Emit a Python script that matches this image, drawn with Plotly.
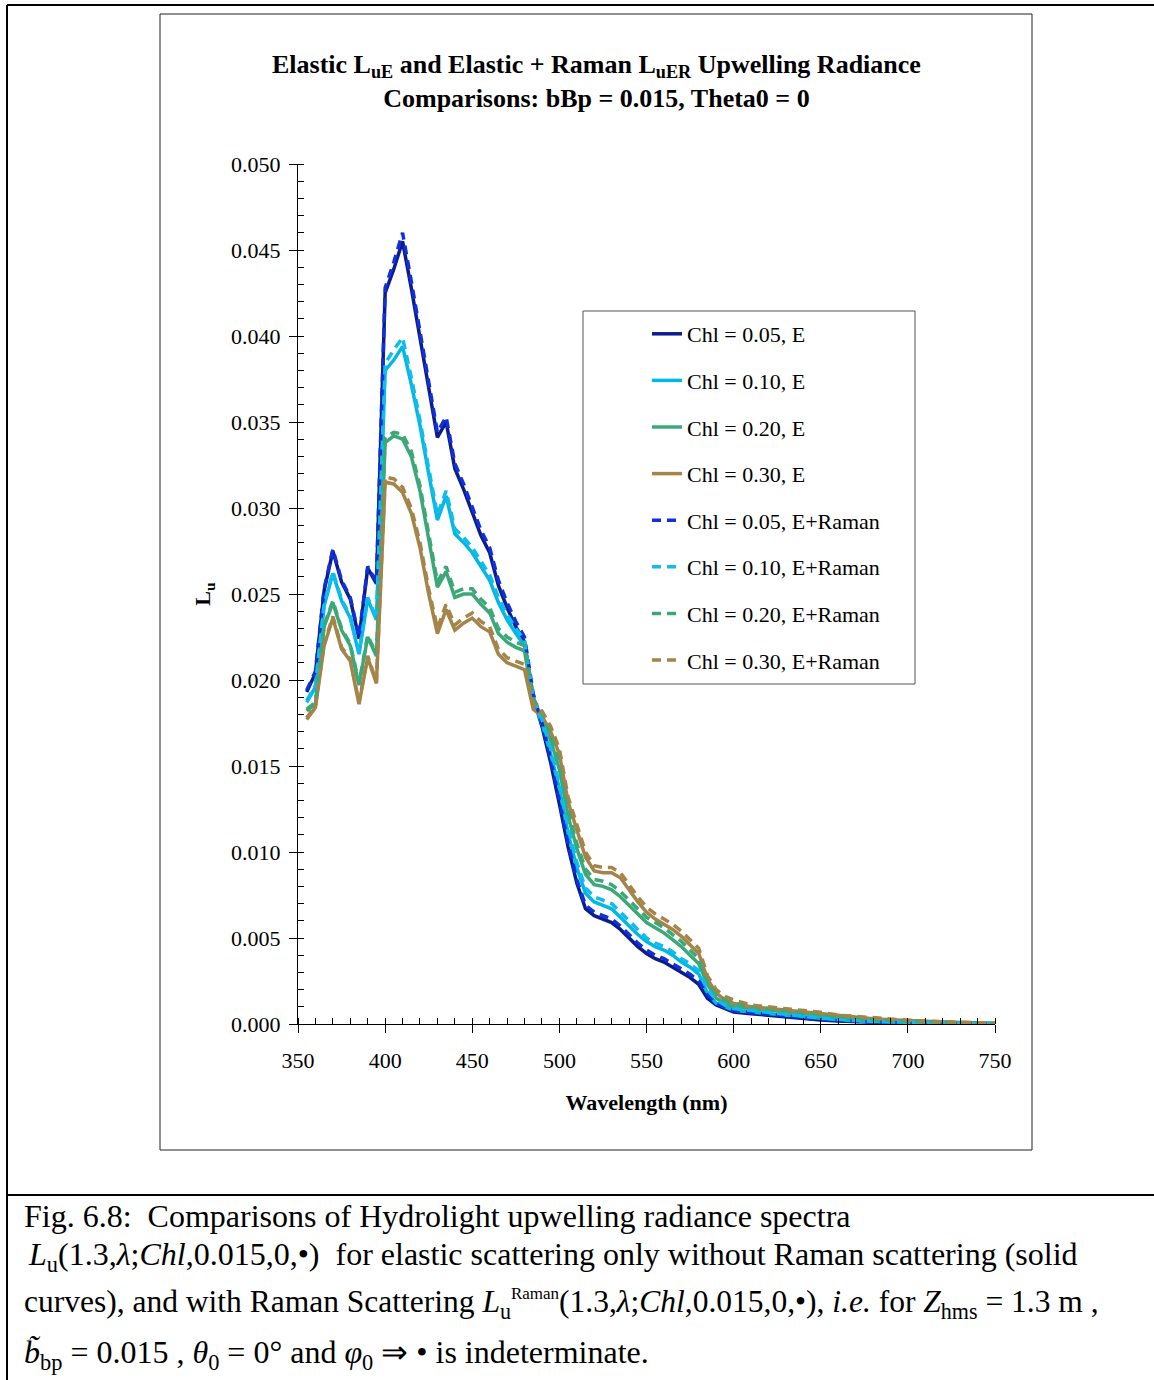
import plotly.graph_objects as go

# ---------------- data ----------------
wavelength = [355, 360, 365, 370, 375, 380, 385, 390, 395, 400, 405, 410, 415, 420, 425, 430, 435, 440, 445, 450,
              455, 460, 465, 470, 475, 480, 485, 490, 495, 500, 505, 510, 515, 520, 525, 530, 535, 540, 545, 550,
              555, 560, 565, 570, 575, 580, 585, 590, 595, 600, 610, 620, 630, 640, 650, 660, 670, 680, 690, 700,
              725, 750]

chl005_E = [0.0193, 0.0204, 0.0252, 0.0275, 0.0257, 0.0247, 0.0224, 0.0265, 0.0256, 0.0425, 0.0439, 0.0455, 0.0428,
            0.0398, 0.0370, 0.0341, 0.0350, 0.0323, 0.0311, 0.0297, 0.0284, 0.0274, 0.0255, 0.0242, 0.0231, 0.0222,
            0.0190, 0.0173, 0.0152, 0.0128, 0.0103, 0.0082, 0.0067, 0.0063, 0.0061, 0.0059, 0.0055, 0.0050, 0.0045,
            0.0041, 0.0038, 0.0036, 0.0033, 0.0030, 0.0027, 0.0023, 0.0015, 0.0011, 0.0009, 0.0007, 0.0006, 0.0005,
            0.0004, 0.0003, 0.00023, 0.00018, 0.00013, 0.0001, 0.00007, 0.00005, 0.00002, 0.00001]

chl010_E = [0.0187, 0.0196, 0.0243, 0.0262, 0.0246, 0.0236, 0.0215, 0.0247, 0.0235, 0.0380, 0.0386, 0.0394, 0.0372,
            0.0348, 0.0320, 0.0293, 0.0307, 0.0285, 0.0280, 0.0274, 0.0266, 0.0258, 0.0245, 0.0235, 0.0227, 0.0220,
            0.0188, 0.0175, 0.0157, 0.0137, 0.0111, 0.0091, 0.0076, 0.0071, 0.0069, 0.0067, 0.0062, 0.0057, 0.0052,
            0.0048, 0.0045, 0.0043, 0.0040, 0.0036, 0.0033, 0.0029, 0.0018, 0.0012, 0.0010, 0.0008, 0.0007, 0.0006,
            0.0005, 0.0004, 0.0003, 0.00024, 0.00018, 0.00013, 0.0001, 0.00008, 0.00004, 0.00002]

chl020_E = [0.0182, 0.0186, 0.0231, 0.0245, 0.0229, 0.0220, 0.0197, 0.0225, 0.0214, 0.0338, 0.0342, 0.0340, 0.0330,
            0.0310, 0.0282, 0.0254, 0.0263, 0.0248, 0.0250, 0.0250, 0.0244, 0.0239, 0.0227, 0.0222, 0.0219, 0.0217,
            0.0186, 0.0178, 0.0165, 0.0148, 0.0121, 0.0102, 0.0087, 0.0081, 0.0080, 0.0078, 0.0074, 0.0069, 0.0064,
            0.0059, 0.0056, 0.0053, 0.0049, 0.0045, 0.0040, 0.0035, 0.0023, 0.0015, 0.0012, 0.0010, 0.0009, 0.0008,
            0.0007, 0.0006, 0.0005, 0.00037, 0.0003, 0.00022, 0.00018, 0.00015, 0.00007, 0.00003]

chl030_E = [0.0177, 0.0184, 0.0220, 0.0236, 0.0218, 0.0211, 0.0186, 0.0213, 0.0198, 0.0315, 0.0314, 0.0309, 0.0297,
            0.0277, 0.0250, 0.0227, 0.0241, 0.0229, 0.0233, 0.0236, 0.0231, 0.0228, 0.0215, 0.0210, 0.0208, 0.0206,
            0.0183, 0.0179, 0.0170, 0.0157, 0.0129, 0.0113, 0.0097, 0.0089, 0.0088, 0.0088, 0.0085, 0.0078, 0.0071,
            0.0065, 0.0061, 0.0058, 0.0055, 0.0051, 0.0046, 0.0041, 0.0026, 0.0018, 0.0014, 0.0012, 0.0010, 0.0009,
            0.0008, 0.0007, 0.0006, 0.00046, 0.0004, 0.0003, 0.00025, 0.0002, 0.0001, 0.00005]

chl005_ER = [0.0194, 0.0205, 0.0253, 0.0276, 0.0258, 0.0248, 0.0225, 0.0266, 0.0257, 0.0428, 0.0443, 0.0460, 0.0432,
             0.0402, 0.0373, 0.0344, 0.0353, 0.0326, 0.0314, 0.0300, 0.0287, 0.0277, 0.0258, 0.0245, 0.0234, 0.0225,
             0.0192, 0.0175, 0.0154, 0.0130, 0.0105, 0.0084, 0.0069, 0.0065, 0.0063, 0.0061, 0.0057, 0.0052, 0.0047,
             0.0043, 0.0040, 0.0038, 0.0035, 0.0032, 0.0029, 0.0025, 0.0017, 0.0012, 0.0010, 0.0008, 0.00066, 0.00055,
             0.00045, 0.00034, 0.00026, 0.0002, 0.00015, 0.00011, 0.00008, 0.00006, 0.00003, 0.00001]

chl010_ER = [0.0188, 0.0197, 0.0244, 0.0263, 0.0247, 0.0237, 0.0216, 0.0248, 0.0236, 0.0384, 0.0392, 0.0399, 0.0376,
             0.0351, 0.0323, 0.0296, 0.0310, 0.0288, 0.0283, 0.0277, 0.0269, 0.0261, 0.0248, 0.0238, 0.0230, 0.0223,
             0.0190, 0.0177, 0.0160, 0.0139, 0.0114, 0.0094, 0.0079, 0.0074, 0.0072, 0.0070, 0.0065, 0.0060, 0.0055,
             0.0050, 0.0047, 0.0045, 0.0042, 0.0038, 0.0035, 0.0031, 0.0020, 0.0014, 0.0011, 0.0009, 0.00078, 0.00066,
             0.00056, 0.00045, 0.00034, 0.00027, 0.0002, 0.00015, 0.00012, 0.00009, 0.00005, 0.00002]

chl020_ER = [0.0183, 0.0187, 0.0232, 0.0246, 0.0230, 0.0221, 0.0198, 0.0226, 0.0215, 0.0341, 0.0344, 0.0343, 0.0333,
             0.0313, 0.0285, 0.0257, 0.0266, 0.0251, 0.0253, 0.0253, 0.0247, 0.0242, 0.0230, 0.0225, 0.0222, 0.0220,
             0.0189, 0.0181, 0.0168, 0.0151, 0.0124, 0.0105, 0.0090, 0.0084, 0.0083, 0.0081, 0.0077, 0.0072, 0.0067,
             0.0062, 0.0059, 0.0056, 0.0052, 0.0048, 0.0043, 0.0038, 0.0025, 0.0017, 0.0014, 0.0012, 0.0010, 0.0009,
             0.0008, 0.00068, 0.00057, 0.00043, 0.00035, 0.00026, 0.00021, 0.00017, 0.00008, 0.00003]

chl030_ER = [0.0178, 0.0185, 0.0221, 0.0237, 0.0219, 0.0212, 0.0187, 0.0214, 0.0199, 0.0318, 0.0317, 0.0312, 0.0300,
             0.0280, 0.0253, 0.0230, 0.0244, 0.0232, 0.0236, 0.0239, 0.0234, 0.0231, 0.0218, 0.0213, 0.0211, 0.0209,
             0.0186, 0.0182, 0.0173, 0.0160, 0.0132, 0.0116, 0.0100, 0.0092, 0.0091, 0.0091, 0.0088, 0.0081, 0.0074,
             0.0068, 0.0064, 0.0061, 0.0058, 0.0054, 0.0049, 0.0044, 0.0028, 0.0020, 0.0016, 0.0014, 0.0011, 0.0010,
             0.0009, 0.0008, 0.00068, 0.00052, 0.00045, 0.00034, 0.00028, 0.00022, 0.00011, 0.00005]

series_names = ["Chl = 0.05, E", "Chl = 0.10, E", "Chl = 0.20, E", "Chl = 0.30, E",
                "Chl = 0.05, E+Raman", "Chl = 0.10, E+Raman", "Chl = 0.20, E+Raman", "Chl = 0.30, E+Raman"]
series_values = [chl005_E, chl010_E, chl020_E, chl030_E, chl005_ER, chl010_ER, chl020_ER, chl030_ER]

x_ticks = [350, 400, 450, 500, 550, 600, 650, 700, 750]
y_ticks = [0.000, 0.005, 0.010, 0.015, 0.020, 0.025, 0.030, 0.035, 0.040, 0.045, 0.050]

# ---------------- styles ----------------
colors = ["#0c1c8c", "#00b8e6", "#3ca878", "#a5844a",
          "#1030dc", "#10bcec", "#3ca878", "#a5844a"]
dashes = ["solid"] * 4 + ["9px,6px"] * 4

W, H = 1154, 1380
L, R, T, B = 298, 995, 164, 1024
SERIF = "Liberation Serif, Times New Roman, serif"


def px(xp):
    return (xp - L) / (R - L)


def py(yp):
    return (B - yp) / (B - T)


fig = go.Figure()
for i, (name, vals) in enumerate(zip(series_names, series_values)):
    fig.add_trace(go.Scatter(
        x=wavelength, y=vals, mode="lines", name=name,
        legendgroup="g%d" % i,
        line=dict(color=colors[i], width=3.5, dash=dashes[i]),
    ))

axis_common = dict(
    showgrid=False, zeroline=False, showline=True, linecolor="black", linewidth=1,
    ticks="outside", ticklen=8, tickwidth=1, tickcolor="black",
    tickfont=dict(family=SERIF, size=22, color="black"),
)

fig.update_xaxes(
    range=[350, 750], tickvals=x_ticks, ticktext=[str(v) for v in x_ticks],
    minor=dict(dtick=10, ticks="inside", ticklen=6, tickcolor="black", showgrid=False),
    ticklabelstandoff=9,
    title=dict(text="<b>Wavelength (nm)</b>", font=dict(family=SERIF, size=22, color="black"), standoff=22),
    **axis_common,
)
fig.update_yaxes(
    range=[0, 0.05], tickvals=y_ticks, ticktext=["%.3f" % v for v in y_ticks],
    minor=dict(dtick=0.001, ticks="inside", ticklen=6, tickcolor="black", showgrid=False),
    ticklabelstandoff=4,
    title=dict(text="<b>L<sub>u</sub></b>", font=dict(family=SERIF, size=22, color="black"), standoff=14),
    **axis_common,
)

shapes = [
    # outer page border lines
    dict(type="line", xref="paper", yref="paper", x0=px(7), x1=px(W), y0=py(5), y1=py(5),
         line=dict(color="black", width=2)),
    dict(type="line", xref="paper", yref="paper", x0=px(7), x1=px(7), y0=py(5), y1=py(H),
         line=dict(color="black", width=2)),
    dict(type="line", xref="paper", yref="paper", x0=px(7), x1=px(W), y0=py(1195), y1=py(1195),
         line=dict(color="black", width=2)),
    # chart frame
    dict(type="rect", xref="paper", yref="paper", x0=px(160), x1=px(1032), y0=py(1150), y1=py(14),
         line=dict(color="#222222", width=1)),
    # legend frame
    dict(type="rect", xref="paper", yref="paper", x0=px(583), x1=px(915), y0=py(684), y1=py(311),
         line=dict(color="#555555", width=1)),
]

annotations = [
    dict(xref="paper", yref="paper", x=px(596), y=py(81), xanchor="center", yanchor="middle",
         showarrow=False, align="center",
         text="<b>Elastic L<sub>uE</sub> and Elastic + Raman L<sub>uER</sub> Upwelling Radiance<br>"
              "Comparisons: bBp = 0.015, Theta0 = 0</b>",
         font=dict(family=SERIF, size=26, color="black")),
]

caption_lines = [
    (22, 1216, 32, "Fig. 6.8:  Comparisons of Hydrolight upwelling radiance spectra"),
    (26, 1256, 32, "<i>L</i><sub>u</sub>(1.3,<i>λ</i>;<i>Chl</i>,0.015,0,•)  for elastic scattering only without Raman scattering (solid"),
    (22, 1304, 31.5, "curves), and with Raman Scattering <i>L</i><sub>u</sub><sup><span style='font-size:17px'>Raman</span></sup>(1.3,<i>λ</i>;<i>Chl</i>,0.015,0,•), <i>i.e.</i> for <i>Z</i><sub>hms</sub> = 1.3 m ,"),
    (22, 1354, 32, "<i>b̃</i><sub>bp</sub> = 0.015 , <i>θ</i><sub>0</sub> = 0° and <i>φ</i><sub>0</sub> ⇒ • is indeterminate."),
]
for xpix, ypix, fsize, txt in caption_lines:
    annotations.append(dict(xref="paper", yref="paper", x=px(xpix), y=py(ypix), xanchor="left",
                            yanchor="middle", showarrow=False, align="left", text=txt,
                            font=dict(family=SERIF, size=fsize, color="black")))

fig.update_layout(
    width=W, height=H,
    margin=dict(l=L, r=W - R, t=T, b=H - B, autoexpand=False),
    paper_bgcolor="white", plot_bgcolor="white",
    showlegend=True,
    legend=dict(
        x=px(647), y=py(313), xanchor="left", yanchor="top",
        bgcolor="rgba(0,0,0,0)", borderwidth=0,
        traceorder="grouped", tracegroupgap=15,
        font=dict(family=SERIF, size=22, color="black"),
        itemclick=False, itemdoubleclick=False,
    ),
    shapes=shapes,
    annotations=annotations,
)

fig.write_html("out.html")
